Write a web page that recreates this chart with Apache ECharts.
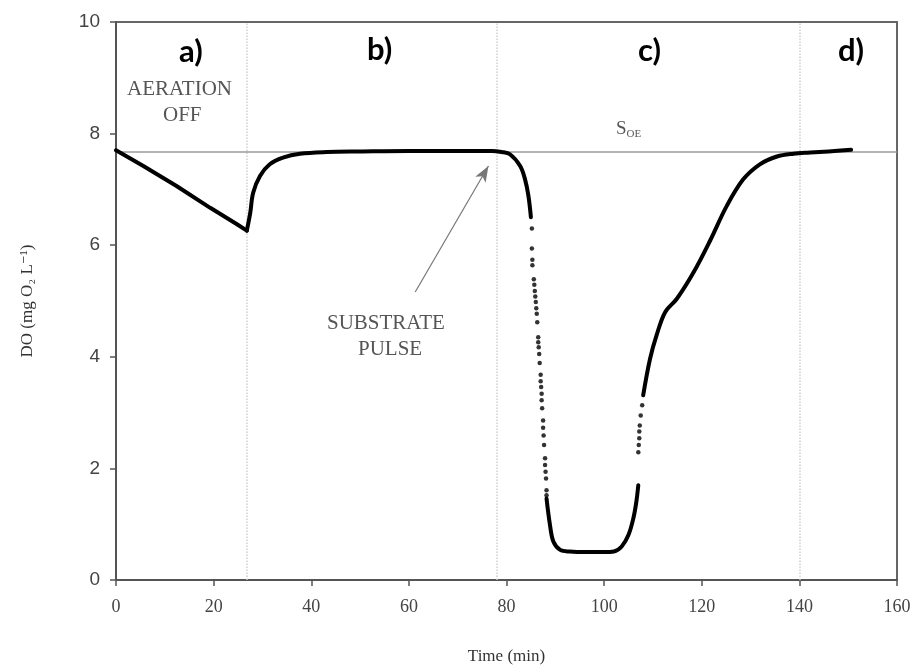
<!DOCTYPE html>
<html>
<head>
<meta charset="utf-8">
<script src="https://cdn.jsdelivr.net/npm/echarts@6/dist/echarts.min.js"></script>
<style>
	html, body { margin: 0; background: #fff; }
	#chart { width: 916px; height: 670px; }
</style>
</head>
<body>
<div id="chart"></div>
<script>
// time axis ticks (min) and DO ticks (mg O2/L)
var timeTicks = [0, 20, 40, 60, 80, 100, 120, 140, 160];
var doTicks = [0, 2, 4, 6, 8, 10];

// continuous parts of the record [time, DO]
var aerationOff = [
	[0, 7.70], [5.6, 7.42], [12.4, 7.06], [19.3, 6.67], [24.7, 6.38], [26.8, 6.26]
];
var aeratedRecovery = [
	[26.8, 6.26], [27.5, 6.58], [28.1, 6.94], [29.5, 7.24], [31.5, 7.45], [34.2, 7.57],
	[37.7, 7.64], [43.2, 7.67], [50, 7.68], [60, 7.69], [70, 7.69], [77, 7.69], [79, 7.67],
	[80.7, 7.63], [82.8, 7.42], [83.8, 7.18], [84.5, 6.88], [85.0, 6.50]
];
var lowPlateau = [
	[88.2, 1.46], [88.9, 0.99], [89.6, 0.69], [91.0, 0.54], [93.0, 0.51], [96, 0.50],
	[100, 0.50], [102, 0.51], [103.6, 0.60], [105.0, 0.81], [106.0, 1.11], [106.6, 1.40],
	[107.0, 1.70]
];
var finalRecovery = [
	[108.0, 3.31], [109.4, 3.96], [110.8, 4.40], [112.5, 4.80], [114.9, 5.04],
	[118.3, 5.51], [121.7, 6.08], [125.1, 6.70], [128.5, 7.18], [131.9, 7.45],
	[135.4, 7.59], [138.8, 7.64], [142.2, 7.66], [146, 7.68], [150.6, 7.71]
];

// sparse samples where DO changes fast
var dropDots = [
	[85.2, 6.30], [85.2, 5.94], [85.3, 5.74], [85.3, 5.64], [85.6, 5.39], [85.7, 5.29],
	[85.8, 5.18], [85.9, 5.08], [86.0, 4.98], [86.1, 4.87], [86.2, 4.77], [86.3, 4.62],
	[86.5, 4.35], [86.5, 4.26], [86.6, 4.17], [86.7, 4.05], [86.8, 3.89], [87.0, 3.68],
	[87.0, 3.56], [87.1, 3.46], [87.2, 3.34], [87.2, 3.22], [87.3, 3.08], [87.5, 2.86],
	[87.5, 2.73], [87.6, 2.59], [87.7, 2.42], [87.9, 2.18], [87.9, 2.06], [88.0, 1.94],
	[88.1, 1.82], [88.2, 1.61], [88.2, 1.52]
];
var riseDots = [
	[107.0, 2.29], [107.1, 2.42], [107.2, 2.54], [107.2, 2.66], [107.3, 2.77],
	[107.5, 2.95], [107.8, 3.13]
];

// phase borders (min), saturation S_OE, substrate pulse arrow
var phaseBorders = [26.8, 78, 140];
var sOE = 7.68;
var pulseArrow = [[61.3, 5.16], [76.3, 7.42]];

var serif = '"Liberation Serif", "DejaVu Serif", serif';
var sans = '"Liberation Sans", Arial, sans-serif';

var chart = echarts.init(document.getElementById('chart'));

function lineSeries(name, data, smooth) {
	return {
		name: name,
		type: 'line',
		data: data,
		smooth: smooth,
		showSymbol: false,
		lineStyle: { color: '#000', width: 4, cap: 'round', join: 'round' },
		z: 3
	};
}

function dotSeries(name, data) {
	return {
		name: name,
		type: 'scatter',
		data: data,
		symbolSize: 4.5,
		itemStyle: { color: '#000' },
		z: 3
	};
}

var refLines = phaseBorders.map(function (t) {
	return { xAxis: t, lineStyle: { color: '#cfcfcf', type: 'dotted', width: 1.5 } };
});
refLines.push({ yAxis: sOE, lineStyle: { color: '#9a9a9a', type: 'solid', width: 1.5 } });
refLines.push([
	{ coord: pulseArrow[0], symbol: 'none' },
	{ coord: pulseArrow[1], symbol: 'arrow', symbolSize: [9, 16], lineStyle: { color: '#777', type: 'solid', width: 1.2 } }
]);

var first = lineSeries('a', aerationOff, false);
first.markLine = {
	silent: true,
	symbol: 'none',
	label: { show: false },
	data: refLines,
	z: 1
};

var labelFont = { fontFamily: serif, fill: '#555', fontSize: 21 };
function txt(x, y, s, style) {
	return { type: 'text', left: x, top: y, style: Object.assign({ text: s }, style) };
}
var phaseFont = { fontFamily: 'Lato, "Open Sans", sans-serif', fontWeight: 'bold', fontSize: 31, fill: '#000' };

var option = {
	animation: false,
	backgroundColor: '#fff',
	grid: {
		left: 116, top: 22, right: 19, bottom: 88,
		show: true, borderColor: '#666', borderWidth: 2
	},
	xAxis: {
		type: 'value',
		min: 0, max: 160, interval: 20,
		name: 'Time (min)',
		nameLocation: 'middle',
		nameGap: 68,
		nameTextStyle: { fontFamily: serif, fontSize: 17, color: '#333' },
		axisLine: { lineStyle: { color: '#555', width: 2 } },
		axisTick: { show: true, inside: false, length: 6, lineStyle: { color: '#555', width: 1.5 } },
		axisLabel: { fontFamily: serif, fontSize: 18, color: '#444', margin: 18,
			formatter: function (v) { return timeTicks.indexOf(v) >= 0 ? v : ''; } },
		splitLine: { show: false }
	},
	yAxis: {
		type: 'value',
		min: 0, max: 10, interval: 2,
		name: 'DO (mg O\u2082 L\u207B\u00B9)',
		nameLocation: 'middle',
		nameGap: 80,
		nameTextStyle: { fontFamily: serif, fontSize: 17, color: '#333' },
		axisLine: { show: true, lineStyle: { color: '#555', width: 2 } },
		axisTick: { show: true, inside: false, length: 6, lineStyle: { color: '#555', width: 1.5 } },
		axisLabel: { fontFamily: sans, fontSize: 19, color: '#444', margin: 16,
			formatter: function (v) { return doTicks.indexOf(v) >= 0 ? v : ''; } },
		splitLine: { show: false }
	},
	series: [
		first,
		lineSeries('a2', aeratedRecovery, 0.35),
		lineSeries('b', lowPlateau, 0.35),
		lineSeries('c', finalRecovery, 0.35),
		dotSeries('drop', dropDots),
		dotSeries('rise', riseDots)
	],
	graphic: [
		txt(179, 36, 'a)', phaseFont),
		txt(367, 34, 'b)', phaseFont),
		txt(638, 35, 'c)', phaseFont),
		txt(838, 35, 'd)', phaseFont),
		txt(127, 79, 'AERATION', labelFont),
		txt(163, 105, 'OFF', labelFont),
		txt(327, 313, 'SUBSTRATE', labelFont),
		txt(358, 339, 'PULSE', labelFont),
		{
			type: 'text', left: 616, top: 120,
			style: {
				text: '{s|S}{sub|OE}',
				rich: {
					s: { fontFamily: serif, fontSize: 19, fill: '#555' },
					sub: { fontFamily: serif, fontSize: 11, fill: '#555', padding: [10, 0, 0, 0] }
				}
			}
		}
	]
};

chart.setOption(option);
</script>
</body>
</html>
